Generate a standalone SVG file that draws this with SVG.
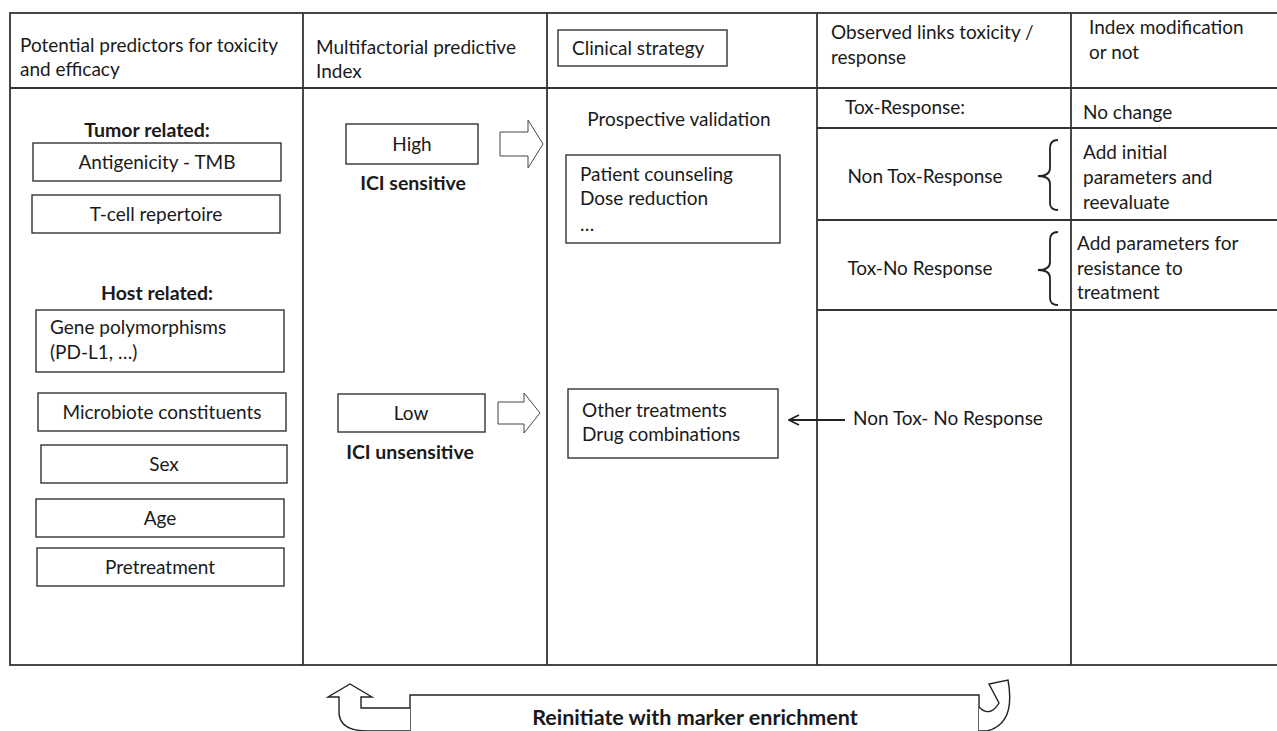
<svg xmlns="http://www.w3.org/2000/svg" width="1277" height="731" viewBox="0 0 1277 731">
<defs>
<style>
text{font-family:"Lato","Open Sans","Liberation Sans",sans-serif;font-size:19px;fill:#1a1a1a}
.b{font-weight:bold;font-size:19.5px}
.m{text-anchor:middle}
.big{font-size:21.5px}
.grid{stroke:#333;stroke-width:1.8;fill:none}
.box{fill:#fff;stroke:#333;stroke-width:1.4}
.hollow{fill:#fff;stroke:#444;stroke-width:1}
.line{stroke:#222;stroke-width:1.8;fill:none}
</style>
<marker id="open" viewBox="0 0 12 12" refX="11" refY="6" markerWidth="12" markerHeight="12" markerUnits="userSpaceOnUse" orient="auto">
<path d="M1,1 L11,6 L1,11" fill="none" stroke="#222" stroke-width="1.6"/>
</marker>
</defs>
<rect width="1277" height="731" fill="#fff"/>
<g id="table">
<rect class="grid" x="10" y="13" width="1268" height="652"/>
<line class="grid" x1="10" y1="88" x2="1277" y2="88"/>
<line class="grid" x1="303" y1="13" x2="303" y2="665"/>
<line class="grid" x1="547" y1="13" x2="547" y2="665"/>
<line class="grid" x1="817" y1="13" x2="817" y2="665"/>
<line class="grid" x1="1071" y1="13" x2="1071" y2="665"/>
<line class="grid" x1="817" y1="128" x2="1277" y2="128"/>
<line class="grid" x1="817" y1="220" x2="1277" y2="220"/>
<line class="grid" x1="817" y1="310" x2="1277" y2="310"/>
</g>
<g id="headers">
<text x="20" y="52">Potential predictors for toxicity</text>
<text x="20" y="76">and efficacy</text>
<text x="316" y="54">Multifactorial predictive</text>
<text x="316" y="78">Index</text>
<text x="831" y="39">Observed links toxicity /</text>
<text x="831" y="64">response</text>
<text x="1089" y="34">Index modification</text>
<text x="1089" y="59">or not</text>
</g>
<g id="clinical-strategy">
<rect class="box" x="558" y="30" width="169" height="36"/>
<text x="572" y="55">Clinical strategy</text>
</g>
<g id="tumor-related">
<text class="b m" x="147" y="137">Tumor related:</text>
</g>
<g id="antigenicity">
<rect class="box" x="33" y="143" width="248" height="38"/>
<text class="m" x="157" y="169">Antigenicity - TMB</text>
</g>
<g id="tcell">
<rect class="box" x="32" y="195" width="248" height="38"/>
<text class="m" x="156" y="221">T-cell repertoire</text>
</g>
<g id="host-related">
<text class="b m" x="157" y="300">Host related:</text>
</g>
<g id="gene">
<rect class="box" x="36" y="310" width="248" height="62"/>
<text x="50" y="334">Gene polymorphisms</text>
<text x="50" y="359">(PD-L1, …)</text>
</g>
<g id="microbiote">
<rect class="box" x="38" y="393" width="248" height="38"/>
<text class="m" x="162" y="419">Microbiote constituents</text>
</g>
<g id="sex">
<rect class="box" x="41" y="445" width="246" height="38"/>
<text class="m" x="164" y="471">Sex</text>
</g>
<g id="age">
<rect class="box" x="36" y="499" width="248" height="38"/>
<text class="m" x="160" y="525">Age</text>
</g>
<g id="pretreatment">
<rect class="box" x="37" y="548" width="247" height="38"/>
<text class="m" x="160" y="574">Pretreatment</text>
</g>
<g id="high">
<rect class="box" x="346" y="124" width="132" height="40"/>
<text class="m" x="412" y="151">High</text>
<text class="b m" x="413" y="190">ICI sensitive</text>
</g>
<g id="low">
<rect class="box" x="338" y="394" width="147" height="38"/>
<text class="m" x="411" y="420">Low</text>
<text class="b m" x="410" y="459">ICI unsensitive</text>
</g>
<g id="prospective">
<text class="m" x="679" y="126">Prospective validation</text>
</g>
<g id="counseling">
<rect class="box" x="566" y="155" width="214" height="88"/>
<text x="580" y="181">Patient counseling</text>
<text x="580" y="205">Dose reduction</text>
<text x="580" y="231">…</text>
</g>
<g id="other-treatments">
<rect class="box" x="568" y="389" width="210" height="69"/>
<text x="582" y="417">Other treatments</text>
<text x="582" y="441">Drug combinations</text>
</g>
<g id="col4">
<text x="845" y="114">Tox-Response:</text>
<text class="m" x="925" y="183">Non Tox-Response</text>
<text class="m" x="920" y="275">Tox-No Response</text>
<text x="853" y="425">Non Tox- No Response</text>
</g>
<g id="col5">
<text x="1083" y="119">No change</text>
<text x="1083" y="159">Add initial</text>
<text x="1083" y="184">parameters and</text>
<text x="1083" y="209">reevaluate</text>
<text x="1077" y="250">Add parameters for</text>
<text x="1077" y="275">resistance to</text>
<text x="1077" y="299">treatment</text>
</g>
<g id="connectors">
<path class="hollow" d="M500,132 L528,132 L528,120 L543,144 L528,168 L528,156 L500,156 Z"/>
<path class="hollow" d="M498,402 L524,402 L524,393 L540,413 L524,433 L524,424 L498,424 Z"/>
<line class="line" x1="845" y1="420" x2="789" y2="420" marker-end="url(#open)"/>
<path class="line" d="M1058,140 Q1050,140 1050,148 L1050,168 Q1050,176 1038,176 Q1050,176 1050,184 L1050,203 Q1050,210 1058,210"/>
<path class="line" d="M1058,232 Q1050,232 1050,240 L1050,262 Q1050,270 1038,270 Q1050,270 1050,278 L1050,298 Q1050,305 1058,305"/>
</g>
<g id="reinitiate">
<path d="M410,731 L410,695 L979,695 L979,731" fill="#fff" stroke="#222" stroke-width="1.4"/>
<path d="M410,708 L361,708 L361,697 L372,697 L350,684 L328,697 L339,697 L339,712 Q339,731 368,731 L410,731" fill="#fff" stroke="#222" stroke-width="1.4"/>
<path d="M979,707 Q990,718 999,703 L989,684 L1008,680 Q1016,724 987,731 L979,731" fill="#fff" stroke="#222" stroke-width="1.4"/>
<text class="b m big" x="695" y="725">Reinitiate with marker enrichment</text>
</g>
</svg>
